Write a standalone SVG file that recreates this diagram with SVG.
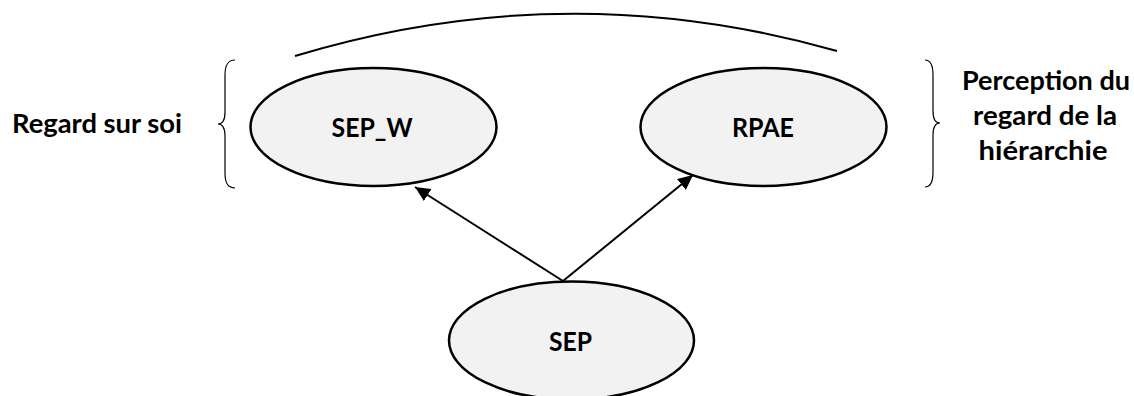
<svg xmlns="http://www.w3.org/2000/svg" width="1134" height="396" viewBox="0 0 1134 396">
  <style>
    .node ellipse { fill: #f2f2f2; stroke: #000; stroke-width: 2.5; }
    .lbl { font-family: Lato, "Liberation Sans", sans-serif; font-weight: bold; font-size: 26px; fill: #000; text-anchor: middle; }
    .brace { fill: none; stroke: #000; stroke-width: 1.2; }
    .edge { fill: none; stroke: #000; stroke-width: 2; marker-end: url(#arrow); }
  </style>
  <defs>
    <marker id="arrow" markerUnits="userSpaceOnUse" markerWidth="16" markerHeight="14" refX="15" refY="7" orient="auto">
      <path d="M0,0 L15,7 L0,14 z" fill="#000"/>
    </marker>
  </defs>
  <rect width="1134" height="396" fill="#fff"/>

  <g id="arc">
    <path d="M295,56 Q566,-26 837,51" fill="none" stroke="#000" stroke-width="2"/>
  </g>

  <g id="left-annotation">
    <path class="brace" d="M235,60 C227,60 225,66 225,75 L225,112 C225,120 222,124 218,124 C222,124 225,128 225,136 L225,173 C225,182 227,188 235,188"/>
    <text class="lbl" x="97" y="133" textLength="170" lengthAdjust="spacingAndGlyphs">Regard sur soi</text>
  </g>

  <g id="right-annotation">
    <path class="brace" d="M925,60 C931,60 933,66 933,75 L933,111 C933,119 936,123 940,123 C936,123 933,127 933,135 L933,172 C933,181 931,187 925,187"/>
    <text class="lbl" x="1046" y="90" textLength="168" lengthAdjust="spacingAndGlyphs">Perception du</text>
    <text class="lbl" x="1045" y="125" textLength="144" lengthAdjust="spacingAndGlyphs">regard de la</text>
    <text class="lbl" x="1043" y="160" textLength="129" lengthAdjust="spacingAndGlyphs">hiérarchie</text>
  </g>

  <g id="connectors">
    <line class="edge" x1="563" y1="281" x2="415" y2="187"/>
    <line class="edge" x1="563" y1="281" x2="693" y2="175"/>
  </g>

  <g id="node-sep-w" class="node">
    <ellipse cx="373.5" cy="127" rx="123" ry="59"/>
    <text class="lbl" x="372" y="137" textLength="81" lengthAdjust="spacingAndGlyphs">SEP_W</text>
  </g>

  <g id="node-rpae" class="node">
    <ellipse cx="763.5" cy="127" rx="123" ry="59"/>
    <text class="lbl" x="763" y="137" textLength="62" lengthAdjust="spacingAndGlyphs">RPAE</text>
  </g>

  <g id="node-sep" class="node">
    <ellipse cx="571.5" cy="340.5" rx="122.5" ry="59"/>
    <text class="lbl" x="570.5" y="351" textLength="43" lengthAdjust="spacingAndGlyphs">SEP</text>
  </g>
</svg>
